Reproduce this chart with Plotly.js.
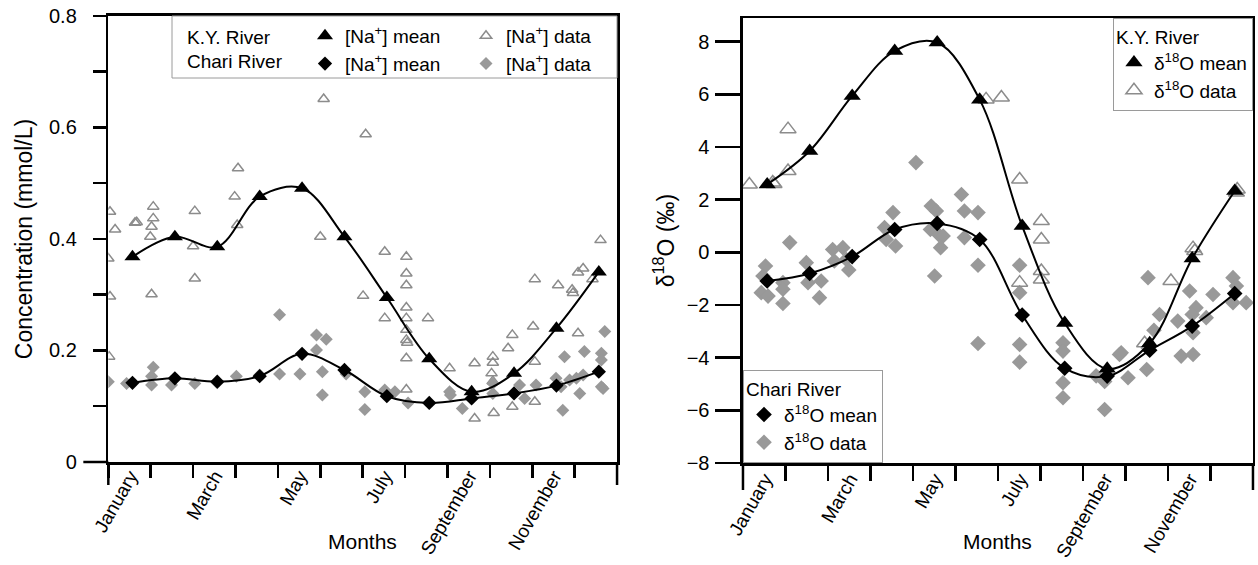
<!DOCTYPE html>
<html>
<head>
<meta charset="utf-8">
<script src="https://cdn.plot.ly/plotly-3.0.1.min.js"></script>
<style>html,body{margin:0;padding:0;background:#fff;}#chart{width:1258px;height:565px;}</style>
</head>
<body>
<div id="chart"></div>
<script>
// ---------- DATA ----------
const months = [1,2,3,4,5,6,7,8,9,10,11,12];
// month boundaries (tick marks) and the month names written under every other month
const monthBounds = [0.43,1.43,2.43,3.43,4.43,5.43,6.43,7.43,8.43,9.43,10.43,11.43,12.43];
const monthLabels = ["January","","March","","May","","July","","September","","November","",""];
const naTickVals = [0,0.1,0.2,0.3,0.4,0.5,0.6,0.7,0.8];
const naTickText = ["0","","0.2","","0.4","","0.6","","0.8"];
const o18TickVals = [-8,-6,-4,-2,0,2,4,6,8];

// Left panel: [Na+] (mmol/L)
const kyNaMean    = [0.368,0.404,0.386,0.476,0.491,0.404,0.295,0.185,0.126,0.159,0.240,0.341];
const chariNaMean = [0.142,0.150,0.144,0.154,0.194,0.165,0.118,0.106,0.114,0.123,0.137,0.162];

const kyNaDataX = [0.47,0.59,0.43,0.47,0.45,1.06,1.10,1.49,1.49,1.45,1.42,1.45,2.47,2.43,2.47,3.49,3.41,3.47,5.51,5.43,
  6.50,6.44,6.95,6.95,7.46,7.46,7.46,7.46,7.46,7.46,7.46,7.48,7.46,7.46,7.97,8.48,9.07,9.07,9.50,9.50,9.47,9.50,9.52,
  9.86,9.96,9.96,10.45,10.49,10.49,10.49,11.04,11.37,11.39,11.51,11.63,11.51,11.85,12.04];
const kyNaDataY = [0.449,0.417,0.365,0.297,0.189,0.429,0.430,0.458,0.437,0.422,0.404,0.301,0.450,0.387,0.329,0.527,0.476,0.425,0.651,0.404,
  0.588,0.298,0.377,0.258,0.368,0.338,0.317,0.277,0.258,0.237,0.219,0.214,0.186,0.130,0.258,0.168,0.177,0.078,0.189,0.178,0.159,0.145,0.088,
  0.204,0.228,0.099,0.243,0.180,0.108,0.328,0.317,0.309,0.303,0.340,0.347,0.231,0.328,0.398];

const chariNaDataX = [0.43,0.86,1.49,1.45,1.45,1.92,2.47,3.00,3.45,4.00,4.47,4.47,4.95,5.34,5.57,5.34,5.48,5.48,6.04,
  6.48,6.48,6.95,7.19,7.50,8.48,8.50,8.78,9.50,9.50,10.13,10.25,10.52,10.99,11.11,11.15,11.19,11.31,11.47,11.63,11.55,11.66,
  12.06,12.06,12.14,12.06,12.10];
const chariNaDataY = [0.144,0.141,0.170,0.154,0.138,0.138,0.141,0.142,0.154,0.156,0.264,0.158,0.158,0.228,0.220,0.201,0.162,0.120,0.158,
  0.126,0.094,0.129,0.126,0.106,0.126,0.120,0.096,0.141,0.123,0.138,0.114,0.138,0.150,0.135,0.093,0.189,0.147,0.150,0.156,0.123,0.198,
  0.195,0.183,0.234,0.135,0.132];

// Right panel: δ18O (‰)
const kyO18Mean    = [2.58,3.85,5.94,7.65,7.97,5.80,1.00,-2.68,-4.42,-3.45,-0.23,2.33];
const chariO18Mean = [-1.09,-0.80,-0.16,0.87,1.10,0.49,-2.38,-4.40,-4.70,-3.72,-2.80,-1.56];

const kyO18DataX = [0.58,1.13,1.16,1.49,1.49,6.15,6.51,6.94,7.45,7.45,7.45,7.45,6.94,9.88,10.50,11.02,11.06,12.04,12.06];
const kyO18DataY = [2.58,2.65,2.60,4.68,3.09,5.81,5.88,2.77,1.19,0.49,-0.71,-1.03,-1.15,-3.45,-1.09,0.16,0.05,2.27,2.39];

const chariO18DataX = [0.96,0.90,0.86,1.02,1.37,1.37,1.37,1.53,1.92,1.96,2.27,2.23,2.54,2.58,2.78,2.86,2.92,
  3.76,3.80,3.96,4.02,4.50,4.86,4.98,4.84,5.03,5.14,5.08,4.94,
  5.57,5.64,5.96,5.64,5.96,5.96,6.94,6.94,6.94,6.94,7.96,7.96,7.96,7.96,8.74,8.94,8.94,9.29,9.33,9.49,
  9.96,10.23,10.10,9.96,9.93,10.66,10.74,10.94,11.09,11.00,11.02,11.02,11.33,11.49,11.96,12.04,11.96,12.27];
const chariO18DataY = [-0.52,-0.90,-1.53,-1.66,-1.15,-1.40,-1.94,0.37,-0.39,-1.15,-1.09,-1.72,0.11,-0.33,0.18,-0.27,-0.67,
  0.94,0.49,1.51,0.24,3.41,1.76,1.57,0.87,0.68,0.62,0.18,-0.90,
  2.20,1.57,1.51,0.56,-0.49,-3.46,-0.49,-1.53,-3.50,-4.17,-3.43,-3.75,-4.95,-5.52,-4.69,-4.90,-5.97,-3.88,-3.81,-4.76,
  -0.96,-2.36,-2.96,-3.62,-4.45,-2.61,-3.94,-1.47,-2.10,-2.36,-3.05,-3.88,-2.48,-1.60,-0.96,-1.28,-1.91,-1.91];

// ---------- STYLE ----------
const FONT = "Liberation Sans, Arial, Helvetica, sans-serif";
const GRAY = "#999999";
const OPEN = "#8c8c8c";

const traces = [
  // left panel
  {x:kyNaDataX, y:kyNaDataY, xaxis:'x', yaxis:'y', mode:'markers', name:'[Na<sup>+</sup>] data', legend:'legend2', legendrank:1,
   marker:{symbol:'triangle-up-open', size:10, color:OPEN, line:{width:1.5, color:OPEN}}},
  {x:chariNaDataX, y:chariNaDataY, xaxis:'x', yaxis:'y', mode:'markers', name:'[Na<sup>+</sup>] data', legend:'legend2', legendrank:2,
   marker:{symbol:'diamond', size:10, color:GRAY}},
  {x:months, y:kyNaMean, xaxis:'x', yaxis:'y', mode:'lines', showlegend:false,
   line:{shape:'spline', smoothing:1, color:'black', width:2}},
  {x:months, y:chariNaMean, xaxis:'x', yaxis:'y', mode:'lines', showlegend:false,
   line:{shape:'spline', smoothing:1, color:'black', width:2}},
  {x:months, y:kyNaMean, xaxis:'x', yaxis:'y', mode:'markers', name:'[Na<sup>+</sup>] mean', legend:'legend', legendrank:1,
   marker:{symbol:'triangle-up', size:14, color:'black'}},
  {x:months, y:chariNaMean, xaxis:'x', yaxis:'y', mode:'markers', name:'[Na<sup>+</sup>] mean', legend:'legend', legendrank:2,
   marker:{symbol:'diamond', size:11, color:'black'}},
  // right panel
  {x:chariO18DataX, y:chariO18DataY, xaxis:'x2', yaxis:'y2', mode:'markers', name:'δ<sup>18</sup>O data', legend:'legend4', legendrank:2,
   marker:{symbol:'diamond', size:12, color:GRAY}},
  {x:kyO18DataX, y:kyO18DataY, xaxis:'x2', yaxis:'y2', mode:'markers', name:'δ<sup>18</sup>O data', legend:'legend3', legendrank:2,
   marker:{symbol:'triangle-up-open', size:14, color:OPEN, line:{width:1.5, color:OPEN}}},
  {x:months, y:kyO18Mean, xaxis:'x2', yaxis:'y2', mode:'lines', showlegend:false,
   line:{shape:'spline', smoothing:1, color:'black', width:2}},
  {x:months, y:chariO18Mean, xaxis:'x2', yaxis:'y2', mode:'lines', showlegend:false,
   line:{shape:'spline', smoothing:1, color:'black', width:2}},
  {x:months, y:kyO18Mean, xaxis:'x2', yaxis:'y2', mode:'markers', name:'δ<sup>18</sup>O mean', legend:'legend3', legendrank:1,
   marker:{symbol:'triangle-up', size:15, color:'black'}},
  {x:months, y:chariO18Mean, xaxis:'x2', yaxis:'y2', mode:'markers', name:'δ<sup>18</sup>O mean', legend:'legend4', legendrank:1,
   marker:{symbol:'diamond', size:12, color:'black'}}
];

// ticks on month boundaries; each name shifted to the middle of its month
function monthAxis(domain, anchor, tlen){
  return {
    domain: domain, anchor: anchor, range:[0.43,12.43],
    tickmode:'array', tickvals: monthBounds, ticktext: monthLabels,
    tickangle:-60, ticklabelshift:22, ticklabelstandoff:-20, tickfont:{size:19, color:'black'},
    ticks:'outside', ticklen:tlen, tickwidth:2.5, tickcolor:'black',
    showline:true, linecolor:'black', linewidth:2.5, mirror:true,
    showgrid:false, zeroline:false
  };
}

const layout = {
  width:1258, height:565,
  margin:{l:0, r:0, t:0, b:0},
  paper_bgcolor:'white', plot_bgcolor:'white',
  font:{family:FONT, size:20, color:'black'},
  showlegend:true,
  xaxis: monthAxis([0.0861,0.4905], 'y', 13),
  yaxis: {
    domain:[0.1823,0.9717], anchor:'x', range:[0,0.8],
    tickmode:'array', tickvals: naTickVals, ticktext: naTickText,
    ticks:'outside', ticklen:13, tickwidth:2.5, tickcolor:'black', ticklabelstandoff:12,
    tickfont:{size:20},
    showline:true, linecolor:'black', linewidth:2.5, mirror:true, showgrid:false, zeroline:false,
    title:{text:'Concentration (mmol/L)', font:{size:23}, standoff:10}
  },
  xaxis2: monthAxis([0.5906,0.9960], 'y2', 15),
  yaxis2: {
    domain:[0.1805,0.9681], anchor:'x2', range:[-8,8.9],
    tickmode:'array', tickvals: o18TickVals,
    ticks:'outside', ticklen:25, tickwidth:2.5, tickcolor:'black', ticklabelstandoff:2,
    tickfont:{size:20},
    showline:true, linecolor:'black', linewidth:2.5, mirror:true, showgrid:false, zeroline:false,
    title:{text:'δ<sup>18</sup>O (‰)', font:{size:23}, standoff:6}
  },
  legend: {x:305/1258, xanchor:'left', y:(565-17)/565, yanchor:'top', bgcolor:'rgba(0,0,0,0)', borderwidth:0,
           font:{size:19}, tracegroupgap:0, itemwidth:30},
  legend2:{x:466/1258, xanchor:'left', y:(565-17)/565, yanchor:'top', bgcolor:'rgba(0,0,0,0)', borderwidth:0,
           font:{size:19}, tracegroupgap:0, itemwidth:30},
  legend3:{x:0.996, xanchor:'right', y:(565-18)/565, yanchor:'top', bgcolor:'white', bordercolor:'#9a9a9a', borderwidth:1,
           font:{size:19}, title:{text:'K.Y. River', font:{size:19}}, itemwidth:30},
  legend4:{x:743/1258, xanchor:'left', y:(565-463)/565, yanchor:'bottom', bgcolor:'white', bordercolor:'#9a9a9a', borderwidth:1,
           font:{size:19}, title:{text:'Chari River', font:{size:19}}, itemwidth:30},
  annotations:[
    {text:'K.Y. River', xref:'paper', yref:'paper', x:185/1258, y:(565-37)/565, xanchor:'left', yanchor:'middle', showarrow:false, font:{size:19}},
    {text:'Chari River', xref:'paper', yref:'paper', x:185/1258, y:(565-62)/565, xanchor:'left', yanchor:'middle', showarrow:false, font:{size:19}},
    {text:'Months', xref:'x domain', yref:'paper', x:0.5, y:(565-541)/565, xanchor:'center', yanchor:'middle', showarrow:false, font:{size:21}},
    {text:'Months', xref:'x2 domain', yref:'paper', x:0.5, y:(565-541)/565, xanchor:'center', yanchor:'middle', showarrow:false, font:{size:21}}
  ],
  shapes:[
    // left legend frame
    {type:'rect', xref:'paper', yref:'paper', x0:172/1258, x1:617/1258, y0:(565-78)/565, y1:0.9717, line:{color:'#9a9a9a', width:1}, fillcolor:'rgba(0,0,0,0)', layer:'above'},
    // axis extensions beyond the corners (Origin-style)
    {type:'line', xref:'x domain', yref:'y domain', x0:-25/509, x1:0, y0:0, y1:0, line:{color:'black', width:2.5}},
    {type:'line', xref:'x domain', yref:'y domain', x0:0, x1:0, y0:-23/446, y1:0, line:{color:'black', width:2.5}},
    {type:'line', xref:'x domain', yref:'y domain', x0:1, x1:1, y0:-23/446, y1:0, line:{color:'black', width:2.5}},
    {type:'line', xref:'x2 domain', yref:'y2 domain', x0:0, x1:0, y0:-27/445, y1:0, line:{color:'black', width:2.5}},
    {type:'line', xref:'x2 domain', yref:'y2 domain', x0:1, x1:1, y0:-27/445, y1:0, line:{color:'black', width:2.5}}
  ]
};

Plotly.newPlot('chart', traces, layout, {staticPlot:true, displayModeBar:false});
</script>
</body>
</html>
